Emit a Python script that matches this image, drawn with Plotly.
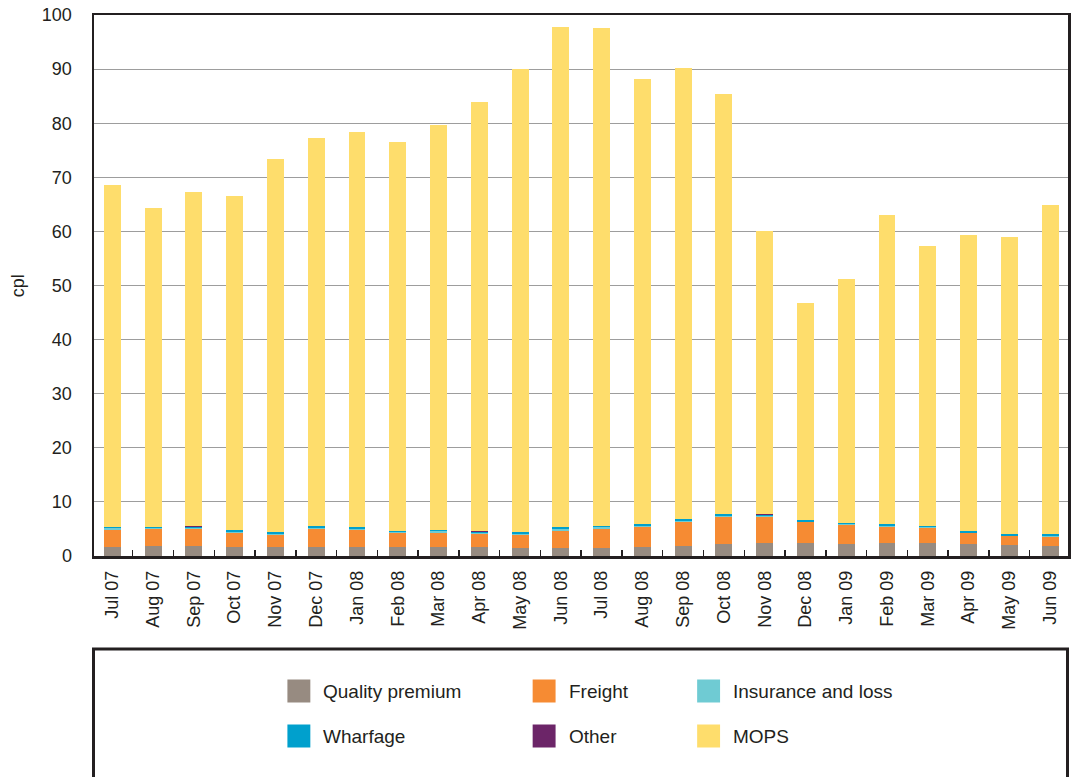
import plotly.graph_objects as go

months = ["Jul 07", "Aug 07", "Sep 07", "Oct 07", "Nov 07", "Dec 07", "Jan 08", "Feb 08",
          "Mar 08", "Apr 08", "May 08", "Jun 08", "Jul 08", "Aug 08", "Sep 08", "Oct 08",
          "Nov 08", "Dec 08", "Jan 09", "Feb 09", "Mar 09", "Apr 09", "May 09", "Jun 09"]

quality_premium = [1.7, 1.85, 1.85, 1.7, 1.7, 1.7, 1.7, 1.7, 1.7, 1.7, 1.5, 1.5,
                   1.5, 1.7, 1.85, 2.2, 2.4, 2.4, 2.2, 2.4, 2.4, 2.2, 2.1, 1.85]
freight = [3.1, 3.2, 3.2, 2.6, 2.2, 3.3, 3.1, 2.6, 2.6, 2.35, 2.45, 3.2,
           3.55, 3.7, 4.5, 5.1, 4.85, 3.8, 3.6, 3.0, 2.8, 2.05, 1.6, 1.7]
insurance_loss = [0.35, 0.15, 0.2, 0.15, 0.15, 0.15, 0.25, 0.15, 0.3, 0.25, 0.15, 0.35,
                  0.3, 0.15, 0.15, 0.15, 0.12, 0.12, 0.12, 0.13, 0.08, 0.08, 0.08, 0.12]
wharfage = [0.2, 0.2, 0.2, 0.35, 0.35, 0.35, 0.3, 0.2, 0.2, 0.15, 0.35, 0.3,
            0.2, 0.35, 0.35, 0.3, 0.25, 0.3, 0.2, 0.35, 0.3, 0.3, 0.3, 0.35]
other = [0, 0, 0.15, 0, 0, 0, 0, 0, 0, 0.17, 0, 0,
         0, 0, 0, 0, 0.12, 0, 0, 0, 0, 0, 0, 0]
mops = [63.3, 58.9, 61.6, 61.7, 69.0, 71.8, 73.0, 71.9, 74.9, 79.3, 85.5, 92.5,
        92.1, 82.2, 83.4, 77.6, 52.3, 40.2, 45.0, 57.1, 51.8, 54.7, 54.8, 60.8]

series_names = ["Quality premium", "Freight", "Insurance and loss", "Wharfage", "Other", "MOPS"]
series_values = [quality_premium, freight, insurance_loss, wharfage, other, mops]
series_colors = ["#978b81", "#f68b33", "#6fcbd3", "#00a0cd", "#6c2568", "#fedd6c"]

y_ticks = [0, 10, 20, 30, 40, 50, 60, 70, 80, 90, 100]

FONT = "Liberation Sans, Arial, Helvetica, sans-serif"
TXT = "#231f20"

fig = go.Figure()
for name, vals, col in zip(series_names, series_values, series_colors):
    fig.add_trace(go.Bar(x=months, y=vals, name=name, marker=dict(color=col, line=dict(width=0)),
                         showlegend=False))

# plot area in pixels
L, R, T, B = 94, 1071, 15, 556
W = 1072
H = 777


def px_x(px):
    return (px - L) / (R - L)


def px_y(py):
    return (B - py) / (B - T)


shapes = []
annotations = []

# legend frame
shapes.append(dict(type="rect", xref="paper", yref="paper",
                   x0=px_x(93.5), x1=px_x(1070.5), y0=px_y(800), y1=px_y(649),
                   line=dict(color=TXT, width=3), fillcolor="rgba(0,0,0,0)"))

# legend layout: column left edges of swatches and row centres
legend_cols = [288, 534, 699]
legend_rows = [691, 736]
order = [[0, 1, 2], [3, 4, 5]]
for r, row in enumerate(order):
    for c, idx in enumerate(row):
        sx = legend_cols[c]
        cy = legend_rows[r]
        shapes.append(dict(type="rect", xref="paper", yref="paper",
                           x0=px_x(sx), x1=px_x(sx + 23), y0=px_y(cy + 11.5), y1=px_y(cy - 11.5),
                           line=dict(width=0), fillcolor=series_colors[idx]))
        annotations.append(dict(text=series_names[idx], xref="paper", yref="paper",
                                x=px_x(sx + 34), y=px_y(cy), xanchor="left", yanchor="middle",
                                showarrow=False, font=dict(family=FONT, size=19, color=TXT)))

# y axis title
annotations.append(dict(text="cpl", xref="paper", yref="paper", x=px_x(17.5), y=0.5,
                        xanchor="center", yanchor="middle", textangle=-90, showarrow=False,
                        font=dict(family=FONT, size=18, color=TXT)))

fig.update_layout(
    width=W, height=H,
    barmode="stack",
    bargap=0.585,
    plot_bgcolor="white", paper_bgcolor="white",
    margin=dict(l=L, r=W - R, t=T, b=H - B, pad=0),
    font=dict(family=FONT, size=17, color=TXT),
    shapes=shapes,
    annotations=annotations,
    showlegend=False,
)

fig.update_xaxes(
    type="category",
    range=[-0.45, 23.44],
    tickangle=-90,
    ticks="inside", ticklen=6, tickwidth=1.5, tickcolor=TXT,
    tickson="boundaries",
    showline=True, linecolor=TXT, linewidth=2.5, mirror=True,
    showgrid=False,
    tickfont=dict(family=FONT, size=18, color=TXT),
    ticklabelstandoff=5,
)

fig.update_yaxes(
    range=[0, 100],
    tickvals=y_ticks,
    ticks="",
    showline=True, linecolor=TXT, linewidth=2.5, mirror=True,
    showgrid=True, gridcolor="#9d9d9d", gridwidth=1,
    zeroline=False,
    tickfont=dict(family=FONT, size=18, color=TXT),
    ticklabelstandoff=16,
)

fig.write_html("out.html",
               config={"displayModeBar": False, "staticPlot": True},
               post_script="document.body.style.margin='0';document.body.style.overflow='hidden';")
